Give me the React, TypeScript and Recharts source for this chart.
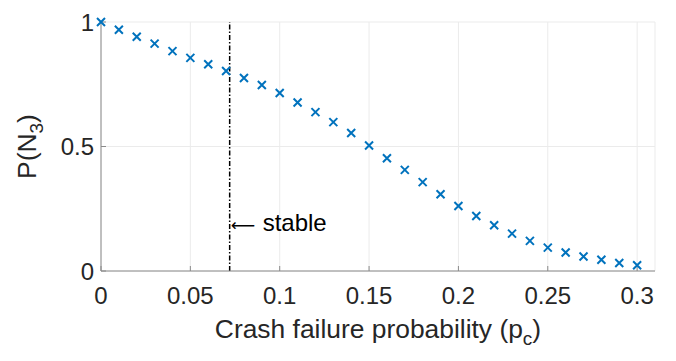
import React from 'react';
import {
  ScatterChart,
  Scatter,
  XAxis,
  YAxis,
  CartesianGrid,
  ReferenceLine,
  ReferenceDot,
} from 'recharts';

// crash failure probability (x) and probability of N3 (y)
const P_C = [
  0, 0.01, 0.02, 0.03, 0.04, 0.05, 0.06, 0.07, 0.08, 0.09, 0.1,
  0.11, 0.12, 0.13, 0.14, 0.15, 0.16, 0.17, 0.18, 0.19, 0.2,
  0.21, 0.22, 0.23, 0.24, 0.25, 0.26, 0.27, 0.28, 0.29, 0.3,
];
const P_N3 = [
  1.0, 0.969, 0.941, 0.913, 0.883, 0.856, 0.83, 0.803, 0.775, 0.747, 0.715,
  0.677, 0.638, 0.598, 0.554, 0.504, 0.453, 0.406, 0.357, 0.308, 0.261,
  0.221, 0.184, 0.15, 0.121, 0.094, 0.074, 0.058, 0.045, 0.032, 0.023,
];
const X_TICKS = [0, 0.05, 0.1, 0.15, 0.2, 0.25, 0.3];
const Y_TICKS = [0, 0.5, 1];

// stability threshold and where its annotation sits
const STABLE_X = 0.072;
const STABLE_LABEL_Y = 0.197;

const FONT = '"Liberation Sans", Arial, Helvetica, sans-serif';
const BLUE = '#0072BD';
const AXIS = '#8a8a8a';
const TEXT = '#262626';

const points = P_C.map((x, i) => ({ x, y: P_N3[i] }));

const XMark = (props: any) => {
  const { cx, cy } = props;
  const s = 4;
  return (
    <path
      d={`M${cx - s},${cy - s}L${cx + s},${cy + s}M${cx - s},${cy + s}L${cx + s},${cy - s}`}
      stroke={BLUE}
      strokeWidth={2}
      fill="none"
    />
  );
};

const XLabel = (props: any) => {
  const { viewBox } = props;
  const cx = viewBox.x + viewBox.width / 2;
  return (
    <text x={cx} y={338} textAnchor="middle" fontSize={26.4} fill={TEXT} fontFamily={FONT}>
      Crash failure probability (p
      <tspan dy={7} fontSize={19}>c</tspan>
      <tspan dy={-7}>)</tspan>
    </text>
  );
};

const YLabel = (props: any) => {
  const { viewBox } = props;
  const cy = viewBox.y + viewBox.height / 2;
  const bx = 36;
  return (
    <text
      x={bx}
      y={cy}
      transform={`rotate(-90 ${bx} ${cy})`}
      textAnchor="middle"
      fontSize={26.4}
      fill={TEXT}
      fontFamily={FONT}
    >
      P(N
      <tspan dy={7} fontSize={19}>3</tspan>
      <tspan dy={-7}>)</tspan>
    </text>
  );
};

const StableLabel = (props: any) => {
  const { viewBox } = props;
  const cx = viewBox.x + viewBox.width / 2;
  const cy = viewBox.y + viewBox.height / 2;
  return (
    <text y={cy + 9} fontSize={24} fill="#000" fontFamily={FONT}>
      <tspan x={cx + 1} fontSize={17} fontFamily='"DejaVu Sans", sans-serif'>⟵</tspan>
      <tspan x={cx + 33}>stable</tspan>
    </text>
  );
};

export default function App() {
  return (
    <div style={{ position: 'absolute', left: 0, top: 0, background: '#fff' }}>
      <ScatterChart
        width={676}
        height={361}
        margin={{ top: 22, right: 21, bottom: 0, left: 0 }}
      >
        <CartesianGrid stroke="#ebebeb" />
        <XAxis
          type="number"
          dataKey="x"
          domain={[0, 0.31]}
          ticks={X_TICKS}
          height={90}
          stroke={AXIS}
          tickSize={-5}
          tickMargin={21}
          tick={{ fontSize: 24, fill: TEXT, fontFamily: FONT }}
          label={{ content: XLabel }}
        />
        <YAxis
          type="number"
          dataKey="y"
          domain={[0, 1]}
          ticks={Y_TICKS}
          width={101}
          stroke={AXIS}
          tickSize={-5}
          tickMargin={12}
          tick={{ fontSize: 24, fill: TEXT, fontFamily: FONT }}
          label={{ content: YLabel }}
        />
        <ReferenceLine
          x={STABLE_X}
          stroke="#000"
          strokeWidth={1.5}
          strokeDasharray="5 2 1.5 2"
        />
        <ReferenceDot
          x={STABLE_X}
          y={STABLE_LABEL_Y}
          r={0}
          fill="none"
          stroke="none"
          label={{ content: StableLabel }}
        />
        <Scatter data={points} shape={XMark} isAnimationActive={false} />
      </ScatterChart>
    </div>
  );
}
